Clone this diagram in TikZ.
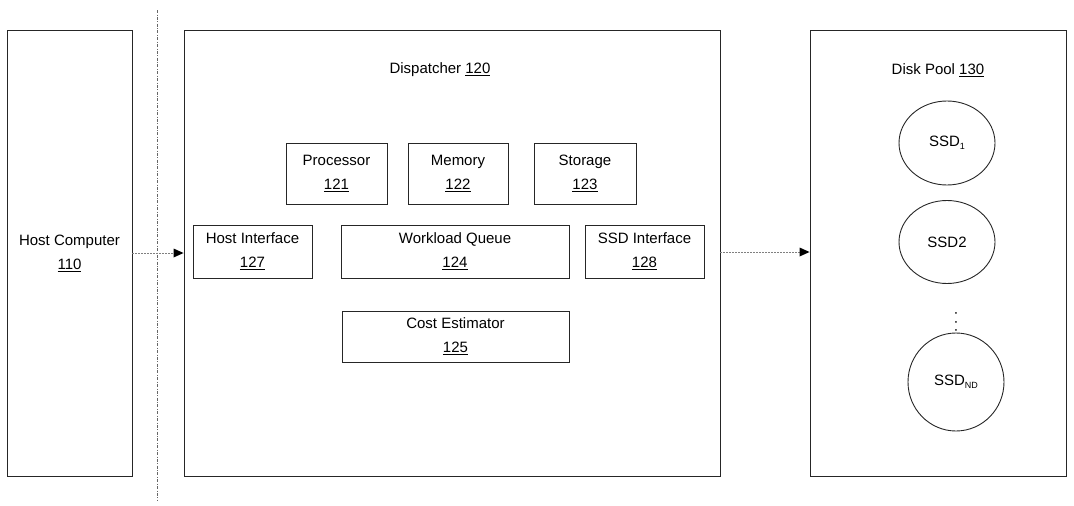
\documentclass[tikz,border=0pt]{standalone}
\usepackage{fontspec}
\setmainfont{Liberation Sans}
\usetikzlibrary{arrows.meta,shapes.geometric}
\newcommand{\mysub}[1]{\raisebox{-3.5pt}{\fontsize{9}{9}\selectfont #1}}
\begin{document}
\begin{tikzpicture}[x=1pt,y=-1pt,
  font=\fontsize{15}{24}\selectfont,
  box/.style={draw=black!85,line width=0.9pt,inner sep=0pt,align=center},
  disk/.style={draw=black!85,line width=0.9pt,ellipse,inner sep=0pt},
  flow/.style={draw=black!50,dash pattern=on 2pt off 1pt,line width=0.8pt,-{Triangle[length=10pt,width=9pt,fill=black,line width=0pt]}}
]
\useasboundingbox (0,0) rectangle (1074,506);
% outer boxes
\node[box,minimum width=125pt,minimum height=446pt] (host) at (69.5,253) {Host Computer\\\underline{110}};
\node[box,minimum width=536pt,minimum height=446pt] (disp) at (452,253) {};
\node[box,minimum width=256pt,minimum height=446pt] (pool) at (938,253) {};
\node (disptitle) at (440,70) {Dispatcher \underline{120}};
\node (pooltitle) at (938,70) {Disk Pool \underline{130}};
% separator
\coordinate (septop) at (157,10);
\coordinate (sepbot) at (157,500);
\draw[black!60,line width=0.7pt,dash pattern=on 3pt off 1.5pt on 0.8pt off 1.5pt] (septop) -- (sepbot);
% inner boxes
\node[box,minimum width=101pt,minimum height=61pt] (proc) at (336.5,173.5) {Processor\\\underline{121}};
\node[box,minimum width=100pt,minimum height=61pt] (mem) at (458,173.5) {Memory\\\underline{122}};
\node[box,minimum width=102pt,minimum height=61pt] (stor) at (585,173.5) {Storage\\\underline{123}};
\node[box,minimum width=119pt,minimum height=53pt] (hif) at (252.5,251.5) {Host Interface\\\underline{127}};
\node[box,minimum width=228pt,minimum height=53pt] (wq) at (455,251.5) {Workload Queue\\\underline{124}};
\node[box,minimum width=119pt,minimum height=53pt] (sif) at (644.5,251.5) {SSD Interface\\\underline{128}};
\node[box,minimum width=227pt,minimum height=51pt] (cost) at (455.5,336.5) {Cost Estimator\\\underline{125}};
% disks
\node[disk,minimum width=96pt,minimum height=84pt] (ssd1) at (947,143) {SSD\mysub{1}};
\node[disk,minimum width=96pt,minimum height=83pt] (ssd2) at (947,242) {SSD2};
\node[disk,minimum width=96pt,minimum height=98pt] (ssdn) at (956,382) {SSD\mysub{ND}};
\node[inner sep=0pt] (dots) at (956,322) {\rotatebox{90}{.\hspace{4pt}.\hspace{4pt}.}};
% arrows
\draw[flow] (host.east |- 0,253) -- (disp.west |- 0,253);
\draw[flow] (disp.east |- 0,252) -- (pool.west |- 0,252);
\end{tikzpicture}
\end{document}
